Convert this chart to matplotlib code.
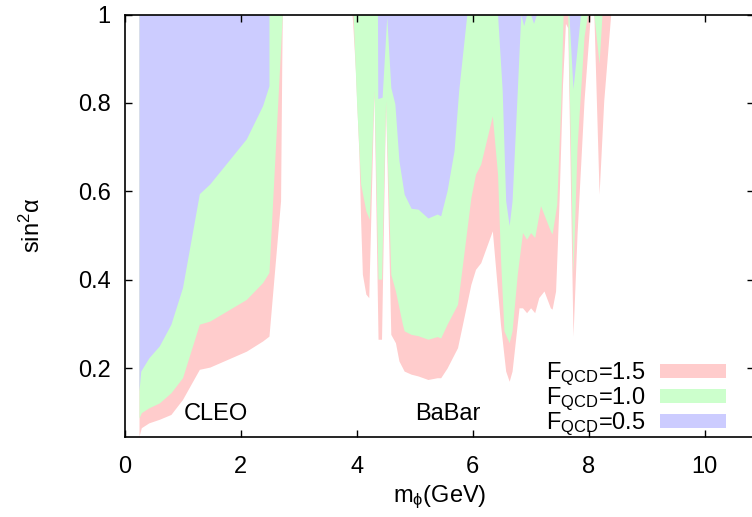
import matplotlib
matplotlib.use("Agg")
import matplotlib.pyplot as plt

plt.rcParams['font.family'] = ['Liberation Sans', 'DejaVu Sans']
plt.rcParams['mathtext.fontset'] = 'custom'
plt.rcParams['mathtext.rm'] = 'Liberation Sans'
plt.rcParams['mathtext.it'] = 'Liberation Sans'

# exclusion boundaries (m_phi in GeV, sin^2 alpha); regions are filled up to 1
red_x = [0.25, 0.25, 0.29, 0.42, 0.60, 0.80, 1.0, 1.29, 1.47, 2.10, 2.38, 2.49, 2.69, 2.71, 2.72,
         3.92, 3.93, 3.98, 4.04, 4.07, 4.10, 4.16, 4.21, 4.30, 4.37, 4.43, 4.50, 4.59, 4.67, 4.73,
         4.82, 4.94, 5.06, 5.23, 5.39, 5.45, 5.56, 5.74, 5.85, 5.97, 6.05, 6.14, 6.34, 6.48, 6.57,
         6.63, 6.68, 6.80, 6.86, 6.93, 7.0, 7.07, 7.14, 7.23, 7.34, 7.37, 7.43, 7.49, 7.55, 7.60,
         7.64, 7.73, 7.80, 7.92, 8.03, 8.09, 8.18, 8.26, 8.38]
red_y = [1.0, 0.047, 0.066, 0.077, 0.085, 0.096, 0.130, 0.198, 0.203, 0.239, 0.262, 0.273, 0.579, 0.881, 1.0,
         1.0, 0.986, 0.873, 0.685, 0.534, 0.413, 0.368, 0.36, 0.828, 0.266, 0.266, 0.805, 0.277, 0.258, 0.217,
         0.194, 0.187, 0.183, 0.175, 0.179, 0.179, 0.201, 0.247, 0.315, 0.39, 0.424, 0.439, 0.511, 0.30, 0.194,
         0.171, 0.194, 0.337, 0.337, 0.326, 0.337, 0.326, 0.36, 0.375, 0.337, 0.334, 0.375, 0.579, 0.843, 0.98,
         0.97, 0.273, 0.504, 0.805, 1.0, 1.0, 0.594, 0.805, 1.0]

green_x = [0.25, 0.25, 0.29, 0.42, 0.60, 0.80, 1.0, 1.29, 1.47, 2.10, 2.38, 2.49, 2.72,
           3.94, 4.0, 4.07, 4.16, 4.22, 4.30, 4.37, 4.43, 4.50, 4.59, 4.67, 4.79, 4.82, 4.94,
           5.06, 5.23, 5.39, 5.45, 5.56, 5.74, 5.97, 6.05, 6.14, 6.34, 6.43, 6.48, 6.54, 6.63,
           6.68, 6.77, 6.86, 6.93, 7.0, 7.07, 7.17, 7.34, 7.37, 7.45, 7.52, 7.56, 7.64, 7.73,
           7.80, 7.92, 7.98, 8.09, 8.18, 8.23]
green_y = [1.0, 0.088, 0.100, 0.111, 0.122, 0.145, 0.179, 0.300, 0.307, 0.356, 0.394, 0.417, 1.0,
           1.0, 0.80, 0.617, 0.556, 0.537, 0.828, 0.402, 0.402, 0.805, 0.413, 0.375, 0.30, 0.285, 0.277,
           0.274, 0.266, 0.272, 0.269, 0.300, 0.345, 0.586, 0.639, 0.662, 0.771, 0.639, 0.451, 0.285, 0.258,
           0.285, 0.413, 0.507, 0.492, 0.507, 0.496, 0.568, 0.511, 0.504, 0.571, 0.805, 1.0, 1.0, 0.413,
           0.70, 0.95, 1.0, 1.0, 0.889, 1.0]

blue_x = [0.25, 0.25, 0.28, 0.42, 0.60, 0.80, 1.0, 1.29, 1.47, 2.10, 2.38, 2.49, 2.49,
          4.36, 4.365, 4.44, 4.52, 4.59, 4.66, 4.73, 4.82, 4.94, 5.06, 5.23, 5.39, 5.45, 5.56,
          5.68, 5.76, 5.90, 6.43, 6.51, 6.57, 6.63, 6.68, 6.77, 6.83, 6.88, 6.93, 7.0, 7.05,
          7.10, 7.66, 7.73, 7.86]
blue_y = [1.0, 0.15, 0.194, 0.224, 0.251, 0.300, 0.383, 0.595, 0.617, 0.719, 0.794, 0.839, 1.0,
          1.0, 0.81, 0.813, 0.995, 0.835, 0.798, 0.67, 0.594, 0.562, 0.56, 0.54, 0.549, 0.545, 0.602,
          0.692, 0.828, 1.0, 1.0, 0.828, 0.579, 0.523, 0.579, 0.828, 1.0, 0.975, 1.0, 1.0, 0.98,
          1.0, 1.0, 0.832, 1.0]

labels = [r'F$_\mathregular{QCD}$=1.5', r'F$_\mathregular{QCD}$=1.0', r'F$_\mathregular{QCD}$=0.5']
colors = ['#ffcccc', '#ccffcc', '#ccccff']

fs = 17

fig = plt.figure(figsize=(7.52, 5.17), dpi=100)
ax = fig.add_axes([124.5 / 752, 80 / 517, 629.5 / 752, 422.5 / 517])

for xs, ys, c, lab in zip([red_x, green_x, blue_x], [red_y, green_y, blue_y], colors, labels):
    ax.fill_between(xs, ys, 1.0, color=c, linewidth=0, label=lab)

ax.text(1.57, 0.098, 'CLEO', fontsize=fs, ha='center', va='center')
ax.text(5.57, 0.098, 'BaBar', fontsize=fs, ha='center', va='center')

ax.set_xlim(0, 10.85)
ax.set_ylim(0.045, 1.0)
ax.set_xticks([0, 2, 4, 6, 8, 10])
ax.set_yticks([0.2, 0.4, 0.6, 0.8, 1.0])
ax.set_yticklabels(['0.2', '0.4', '0.6', '0.8', '1'])
ax.tick_params(direction='in', length=5, width=1, top=True, right=True, labelsize=fs)
ax.tick_params(axis='x', pad=14)
ax.tick_params(axis='y', pad=10)
for s in ax.spines.values():
    s.set_linewidth(1.2)

ax.set_xlabel(r'm$_\phi$(GeV)', fontsize=fs, labelpad=4)
ax.set_ylabel(r'sin$^\mathregular{2}$α', fontsize=fs, labelpad=24)

ax.legend(loc='lower right', bbox_to_anchor=(738 / 752, 67 / 517), bbox_transform=fig.transFigure,
          frameon=False, fontsize=fs, markerfirst=False, handlelength=2.8, handleheight=0.55,
          labelspacing=-0.1, handletextpad=0.6, borderpad=0)

fig.savefig('out.png', dpi=100)
